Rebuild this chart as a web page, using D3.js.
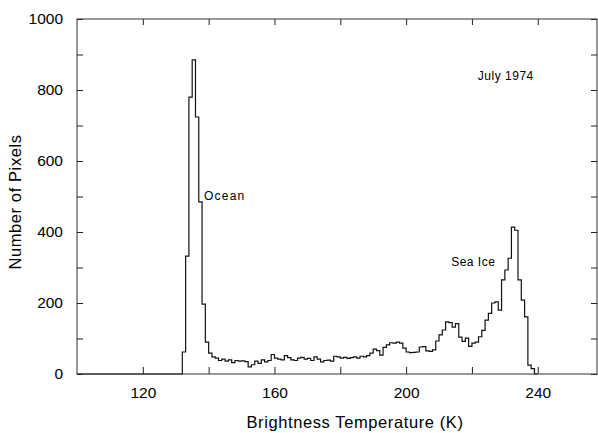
<!DOCTYPE html>
<html>
<head>
<meta charset="utf-8">
<script src="https://cdn.jsdelivr.net/npm/d3@7"></script>
<style>
  body { margin: 0; background: #fff; }
  text { font-family: "Liberation Sans", Arial, sans-serif; fill: #000; }
</style>
</head>
<body>
<div id="chart"></div>
<script>
// Histogram bins: 1 K wide, starting at 100 K
const firstBinK = 100;
const binWidthK = 1;
// Counts per bin, 100 K .. 239 K
const pixelCounts = [
  0, 0, 0, 0, 0, 0, 0, 0, 0, 0,          // 100-109
  0, 0, 0, 0, 0, 0, 0, 0, 0, 0,          // 110-119
  0, 0, 0, 0, 0, 0, 0, 0, 0, 0,          // 120-129
  0, 0, 62, 332, 780, 885, 724, 485, 197, 90,   // 130-139
  59, 48, 45, 38, 42, 36, 40, 32, 38, 36,       // 140-149
  37, 35, 20, 26, 36, 30, 40, 34, 38, 55,       // 150-159
  45, 42, 40, 52, 46, 40, 38, 45, 47, 42,       // 160-169
  44, 38, 48, 42, 34, 38, 39, 36, 50, 48,       // 170-179
  45, 47, 44, 46, 48, 45, 50, 48, 52, 59,       // 180-189
  70, 66, 53, 75, 82, 88, 87, 90, 87, 73,       // 190-199
  62, 60, 61, 62, 76, 77, 65, 64, 68, 93,       // 200-209
  110, 124, 147, 145, 132, 142, 104, 92, 101, 78, // 210-219
  87, 90, 105, 123, 152, 171, 200, 203, 180, 265, // 220-229
  293, 326, 414, 405, 265, 208, 161, 25, 15, 0    // 230-239
];
const xTicks = [120, 140, 160, 180, 200, 220, 240];
const xTickLabels = ["120", "", "160", "", "200", "", "240"];
const yTicks = [0, 100, 200, 300, 400, 500, 600, 700, 800, 900, 1000];
const yTickLabels = ["0", "", "200", "", "400", "", "600", "", "800", "", "1000"];
const annotations = [
  { text: "Ocean", k: 138.6, v: 490, spacing: 1.2 },
  { text: "Sea Ice", k: 213.7, v: 305, spacing: 0.5 },
  { text: "July 1974", k: 221.8, v: 829, spacing: 0.5 }
];

const width = 598, height = 433;
const plotLeft = 77, plotRight = 597, plotTop = 19, plotBottom = 374;

const svg = d3.select("#chart").append("svg")
  .attr("width", width)
  .attr("height", height);

const x = d3.scaleLinear().domain([100, 258]).range([plotLeft, plotRight]);
const y = d3.scaleLinear().domain([0, 1000]).range([plotBottom, plotTop]);

// step outline of the histogram
const steps = pixelCounts.map((c, i) => ({ k: firstBinK + i * binWidthK, v: c }));
steps.push({ k: firstBinK + pixelCounts.length * binWidthK, v: 0 });

const line = d3.line()
  .x(d => x(d.k))
  .y(d => y(d.v))
  .curve(d3.curveStepAfter);

svg.append("path")
  .datum(steps)
  .attr("d", line)
  .attr("fill", "none")
  .attr("stroke", "#111")
  .attr("stroke-width", 1.2);

// axes (ticks point inward)
const yAxis = svg.append("g")
  .attr("transform", `translate(${plotLeft},0)`)
  .call(d3.axisLeft(y).tickValues(yTicks).tickSize(-6).tickPadding(14)
    .tickFormat((d, i) => yTickLabels[i]));

const yAxisRight = svg.append("g")
  .attr("transform", `translate(${plotRight},0)`)
  .call(d3.axisRight(y).tickValues(yTicks).tickSize(-6).tickFormat(""));

const xAxis = svg.append("g")
  .attr("transform", `translate(0,${plotBottom})`)
  .call(d3.axisBottom(x).tickValues(xTicks).tickSize(-7).tickPadding(13)
    .tickFormat((d, i) => xTickLabels[i]));

const xAxisTop = svg.append("g")
  .attr("transform", `translate(0,${plotTop})`)
  .call(d3.axisTop(x).tickValues(xTicks).tickSize(-6).tickFormat(""));

[yAxis, yAxisRight, xAxis, xAxisTop].forEach(g => {
  g.select(".domain").remove();
  g.selectAll(".tick line").attr("stroke", "#222");
  g.selectAll("text").style("font-size", "15.5px").attr("fill", "#000");
});

// frame
svg.append("rect")
  .attr("x", plotLeft).attr("y", plotTop)
  .attr("width", plotRight - plotLeft).attr("height", plotBottom - plotTop)
  .attr("fill", "none")
  .attr("stroke", "#333")
  .attr("stroke-width", 1);

// axis titles
svg.append("text")
  .attr("x", 355).attr("y", 428)
  .attr("text-anchor", "middle")
  .style("font-size", "16.5px")
  .style("letter-spacing", "0.6px")
  .text("Brightness Temperature (K)");

svg.append("text")
  .attr("transform", "translate(21,202) rotate(-90)")
  .attr("text-anchor", "middle")
  .style("font-size", "16.5px")
  .style("letter-spacing", "0.6px")
  .text("Number of Pixels");

// annotations
svg.selectAll(".note")
  .data(annotations)
  .enter()
  .append("text")
  .attr("class", "note")
  .attr("x", d => x(d.k))
  .attr("y", d => y(d.v))
  .style("font-size", "12px")
  .style("letter-spacing", d => d.spacing + "px")
  .text(d => d.text);
</script>
</body>
</html>
